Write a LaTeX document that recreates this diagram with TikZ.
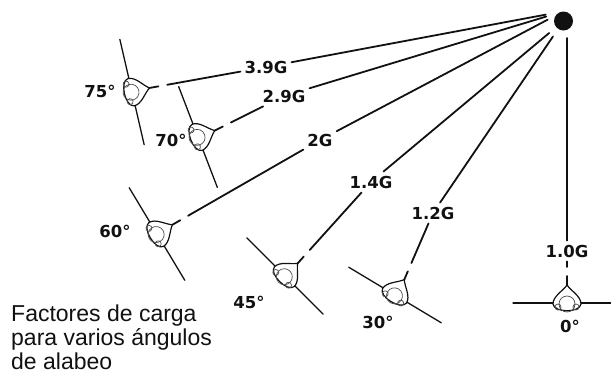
\documentclass[tikz,border=0pt]{standalone}
\usepackage{fontspec}
\setmainfont{Liberation Sans}
\newfontfamily\lblfont{DejaVu Sans}
\usepackage{tikz}
\definecolor{ink}{HTML}{111111}
\tikzset{
  load/.style={draw=ink, line width=1.8pt, line cap=round},
  lead/.style={load, dash pattern=on 9pt off 9pt on 600pt},
  wing/.style={draw=ink, line width=1.3pt, line cap=round},
  hull/.style={draw=ink, line width=1.2pt, fill=white, line join=round},
  ring/.style={draw=ink!75, line width=0.7pt},
  gval/.style={text=ink, inner sep=4pt, font=\lblfont\bfseries\fontsize{16.5}{18}\selectfont},
  legend/.style={text=ink, inner sep=0pt, align=left, font=\fontsize{23}{24}\selectfont},
  hub/.style={circle, fill=ink, inner sep=0pt, minimum size=19pt},
  plane/.pic={
    \draw[wing] (-54,0) -- (54,0);
    \draw[hull] (0,18) .. controls (-4,12) and (-14,7) .. (-14,-1)
                       .. controls (-13,-10) and (13,-10) .. (14,-1)
                       .. controls (14,7) and (4,12) .. (0,18) -- cycle;
    \draw[ring] (0,-1) circle (8pt);
    \draw[ring] (-9,-4) circle (3pt) (9,-4) circle (3pt);
    \coordinate (-tip) at (0,18);
  },
}

\begin{document}
\begin{tikzpicture}[x=1pt, y=1pt]
  \useasboundingbox (0,0) rectangle (611,-375);
  \clip (0,0) rectangle (611,-375);

  \node[hub] (load) at (563.5,-21) {};

  % airplanes seen from behind, banked
  \foreach \ang/\px/\py/\rot in {75/132/92/-77, 70/198/137/-69, 60/157/234/-59,
                                 45/285/276/-45, 30/395/295/-31, 0/567/303/0}
    \pic[rotate=\rot] (p\ang) at (\px,-\py) {plane};

  \foreach \ang/\px/\py in {75/100/91, 70/171/140, 60/115/231,
                            45/249/302, 30/378/322, 0/570/326}
    \node[gval] (d\ang) at (\px,-\py) {\ang°};

  \foreach \n/\txt/\px/\py in {g39/3.9G/266/67, g29/2.9G/284/96, g20/2G/320/140,
                               g14/1.4G/371/182, g12/1.2G/433/213, g10/1.0G/567/251}
    \node[gval] (\n) at (\px,-\py) {\txt};

  % load factor lines
  \foreach \ang/\n in {75/g39, 70/g29, 60/g20, 45/g14, 30/g12, 0/g10}
    \draw[lead] (p\ang-tip) -- (\n);
  \foreach \n in {g39, g29, g20}
    \draw[load, shorten >=18pt] (\n) -- (load.north);
  \foreach \n in {g14, g12}
    \draw[load, shorten >=9pt] (\n) -- (load);
  \draw[load, shorten >=17pt] (g10) -- (g10 |- load);

  \node[legend, anchor=north west] (legend) at (11,-305)
    {Factores de carga\\para varios ángulos\\de alabeo};
\end{tikzpicture}
\end{document}
